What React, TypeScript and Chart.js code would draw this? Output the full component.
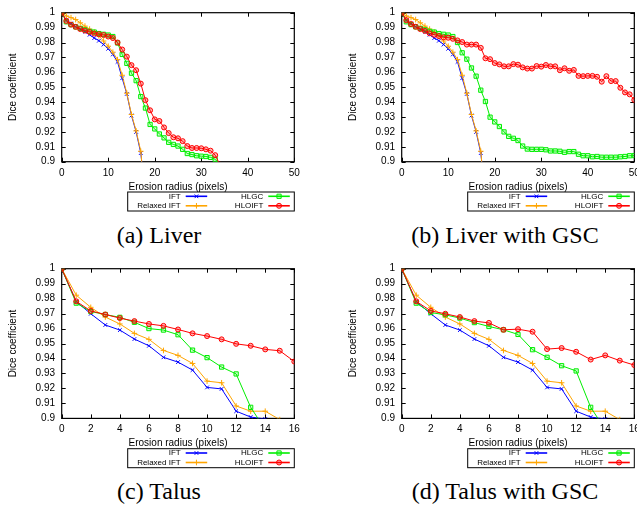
import React, { useEffect, useRef } from 'react';
import { Chart, registerables } from 'chart.js';
import { drawPoint } from 'chart.js/helpers';

Chart.register(...registerables);

// ---------- data (values indexed by erosion radius in pixels, starting at 0) ----------
const SERIES_LABELS = ['IFT', 'Relaxed IFT', 'HLGC', 'HLOIFT'];
const SERIES_COLORS = ['#0000ff', '#ffa500', '#00ee00', '#ff0000'];
const SERIES_FILLS = ['#0000ff', '#ffa500', 'rgba(0,238,0,0.18)', 'rgba(255,0,0,0.3)'];
const SERIES_POINTS = ['crossRot', 'cross', 'rect', 'circle'];
const SERIES_RADII = [2.6, 2.8, 3, 2.5];

const Y_MIN = 0.9;
const Y_MAX = 1.0;
const Y_STEP = 0.01;

const LIVER_X_MAX = 50;
const LIVER_X_STEP = 10;
const TALUS_X_MAX = 16;
const TALUS_X_STEP = 2;

const X_TITLE = 'Erosion radius (pixels)';
const Y_TITLE = 'Dice coefficient';

const IFT_LIVER = [1.0, 0.995, 0.9928, 0.9906, 0.9889, 0.9873, 0.9852, 0.983, 0.9812, 0.9786, 0.9758, 0.972, 0.967, 0.956, 0.9455, 0.931, 0.92, 0.9058, 0.877];
const RELAXED_LIVER = [1.0, 0.9978, 0.9967, 0.9954, 0.9932, 0.991, 0.989, 0.987, 0.9845, 0.981, 0.9775, 0.9735, 0.9685, 0.958, 0.946, 0.9317, 0.9207, 0.907, 0.872];
const HLGC_LIVER = [1.0, 0.9939, 0.992, 0.9905, 0.9895, 0.9885, 0.9875, 0.987, 0.986, 0.9855, 0.985, 0.984, 0.9797, 0.972, 0.966, 0.9594, 0.9544, 0.9437, 0.936, 0.925, 0.922, 0.9186, 0.916, 0.913, 0.9116, 0.9105, 0.9083, 0.9055, 0.9048, 0.904, 0.9037, 0.9035, 0.9029, 0.9016, 0.898];
const HLOIFT_LIVER = [1.0, 0.9945, 0.992, 0.9905, 0.989, 0.988, 0.987, 0.986, 0.9855, 0.985, 0.984, 0.983, 0.98, 0.9753, 0.9705, 0.9648, 0.9614, 0.9524, 0.9413, 0.9345, 0.9284, 0.9273, 0.923, 0.9192, 0.9164, 0.9157, 0.9138, 0.9105, 0.9092, 0.9092, 0.909, 0.9083, 0.9074, 0.9044, 0.898];

const HLGC_LIVER_GSC = [1.0, 0.9939, 0.992, 0.9905, 0.9895, 0.9885, 0.9875, 0.987, 0.986, 0.9855, 0.985, 0.984, 0.98, 0.9731, 0.9688, 0.9629, 0.9574, 0.948, 0.9404, 0.9299, 0.9267, 0.9236, 0.92, 0.917, 0.9157, 0.9142, 0.9105, 0.9085, 0.9083, 0.9083, 0.9083, 0.908, 0.9072, 0.9072, 0.907, 0.9063, 0.9068, 0.9068, 0.905, 0.904, 0.904, 0.9033, 0.9035, 0.903, 0.903, 0.903, 0.903, 0.9033, 0.9035, 0.904, 0.9041];
const HLOIFT_LIVER_GSC = [1.0, 0.995, 0.9924, 0.9906, 0.989, 0.9878, 0.9862, 0.9852, 0.9843, 0.9834, 0.9832, 0.9825, 0.9814, 0.9803, 0.9786, 0.9786, 0.9786, 0.9764, 0.9694, 0.9688, 0.9662, 0.9653, 0.964, 0.964, 0.9655, 0.9651, 0.9633, 0.9625, 0.9625, 0.9642, 0.9638, 0.9649, 0.964, 0.964, 0.9614, 0.9627, 0.961, 0.9616, 0.9576, 0.9574, 0.9576, 0.9576, 0.957, 0.9537, 0.9574, 0.9541, 0.9541, 0.9496, 0.9465, 0.9452, 0.9415];

const IFT_TALUS = [1.0, 0.978, 0.9699, 0.9624, 0.959, 0.953, 0.9485, 0.9408, 0.9376, 0.9323, 0.9207, 0.9197, 0.9048, 0.9009, 0.8996];
const RELAXED_TALUS = [1.0, 0.9823, 0.9742, 0.9677, 0.9631, 0.9568, 0.9528, 0.9454, 0.9421, 0.9367, 0.9249, 0.9238, 0.9083, 0.9048, 0.9048, 0.8992];
const HLGC_TALUS = [1.0, 0.977, 0.9714, 0.9694, 0.9675, 0.9642, 0.96, 0.959, 0.9559, 0.9456, 0.9406, 0.9343, 0.9297, 0.9074, 0.8926];
const HLOIFT_TALUS = [1.0, 0.9782, 0.9718, 0.9694, 0.967, 0.965, 0.9631, 0.9618, 0.9594, 0.9568, 0.955, 0.9528, 0.9498, 0.9485, 0.9461, 0.9452, 0.938];

const HLGC_TALUS_GSC = [1.0, 0.977, 0.9707, 0.9692, 0.967, 0.964, 0.9614, 0.9592, 0.9561, 0.9459, 0.9408, 0.9352, 0.9317, 0.9074, 0.8926];
const HLOIFT_TALUS_GSC = [1.0, 0.9782, 0.9718, 0.9699, 0.9677, 0.965, 0.9638, 0.9592, 0.9596, 0.9579, 0.9463, 0.947, 0.9445, 0.9393, 0.9421, 0.9386, 0.9356];

const CAPTIONS = ['(a) Liver', '(b) Liver with GSC', '(c) Talus', '(d) Talus with GSC'];

// ---------- layout ----------
const CANVAS_W = 318;
const CANVAS_H = 215;
const PLOT_H = 152.7;
const Y_AXIS_W = 61.7;
const X_AXIS_H = 31.3;
const RIGHT_PAD = 23.7;
const FONT = 'Liberation Sans, Arial, Helvetica, sans-serif';

const PANELS = [
  { left: 0, top: 0, padTop: 9, capShift: 0, xMax: LIVER_X_MAX, xStep: LIVER_X_STEP, series: [IFT_LIVER, RELAXED_LIVER, HLGC_LIVER, HLOIFT_LIVER], caption: CAPTIONS[0] },
  { left: 340, top: 0, padTop: 9, capShift: 6, xMax: LIVER_X_MAX, xStep: LIVER_X_STEP, series: [IFT_LIVER, RELAXED_LIVER, HLGC_LIVER_GSC, HLOIFT_LIVER_GSC], caption: CAPTIONS[1] },
  { left: 0, top: 256, padTop: 9.7, capShift: 0, xMax: TALUS_X_MAX, xStep: TALUS_X_STEP, series: [IFT_TALUS, RELAXED_TALUS, HLGC_TALUS, HLOIFT_TALUS], caption: CAPTIONS[2] },
  { left: 340, top: 256, padTop: 9.7, capShift: 6, xMax: TALUS_X_MAX, xStep: TALUS_X_STEP, series: [IFT_TALUS, RELAXED_TALUS, HLGC_TALUS_GSC, HLOIFT_TALUS_GSC], caption: CAPTIONS[3] },
];

const framePlugin = {
  id: 'gnuFrame',
  beforeDatasetsDraw(chart: any) {
    const { ctx, chartArea: ca, scales } = chart;
    ctx.save();
    ctx.strokeStyle = '#000';
    ctx.lineWidth = 1;
    const T = 4;
    ctx.beginPath();
    scales.x.ticks.forEach((t: any) => {
      const px = Math.round(scales.x.getPixelForValue(t.value)) + 0.5;
      ctx.moveTo(px, ca.bottom);
      ctx.lineTo(px, ca.bottom - T);
      ctx.moveTo(px, ca.top);
      ctx.lineTo(px, ca.top + T);
    });
    scales.y.ticks.forEach((t: any) => {
      const py = Math.round(scales.y.getPixelForValue(t.value)) + 0.5;
      ctx.moveTo(ca.left, py);
      ctx.lineTo(ca.left + T, py);
      ctx.moveTo(ca.right, py);
      ctx.lineTo(ca.right - T, py);
    });
    ctx.stroke();
    ctx.lineWidth = 1.2;
    ctx.strokeRect(ca.left, ca.top, ca.right - ca.left, ca.bottom - ca.top);
    ctx.restore();
  },
};

const legendPlugin = {
  id: 'gnuLegend',
  afterDraw(chart: any) {
    const { ctx, chartArea: ca } = chart;
    const boxL = ca.left + 66;
    const boxR = ca.right;
    const boxT = ca.bottom + 30.3;
    const boxB = ca.bottom + 49.3;
    ctx.save();
    ctx.strokeStyle = '#000';
    ctx.lineWidth = 1;
    ctx.strokeRect(boxL, boxT, boxR - boxL, boxB - boxT);
    const rows = [boxT + 4.3, boxT + 13.8];
    const textRight = [boxL + 53, boxR - 31];
    ctx.font = '8px ' + FONT;
    ctx.textAlign = 'right';
    ctx.textBaseline = 'middle';
    chart.data.datasets.forEach((ds: any, i: number) => {
      const col = Math.floor(i / 2);
      const row = i % 2;
      const y = rows[row];
      const tx = textRight[col];
      ctx.fillStyle = '#000';
      ctx.fillText(ds.label, tx, y);
      const x0 = tx + 5;
      const x1 = tx + 26.5;
      ctx.strokeStyle = ds.borderColor;
      ctx.lineWidth = 1.6;
      ctx.beginPath();
      ctx.moveTo(x0, y);
      ctx.lineTo(x1, y);
      ctx.stroke();
      ctx.fillStyle = ds.pointBackgroundColor;
      ctx.strokeStyle = ds.borderColor;
      ctx.lineWidth = 1;
      drawPoint(ctx, { pointStyle: ds.pointStyle, rotation: 0, radius: ds.pointRadius, borderWidth: 1 }, (x0 + x1) / 2, y);
    });
    ctx.restore();
  },
};

function Panel({ panel }: { panel: any }) {
  const ref = useRef<HTMLCanvasElement | null>(null);
  useEffect(() => {
    if (!ref.current) return;
    const plotBottom = panel.padTop + PLOT_H;
    const datasets = panel.series.map((vals: number[], i: number) => ({
      label: SERIES_LABELS[i],
      data: vals.map((v, r) => ({ x: r, y: v })),
      borderColor: SERIES_COLORS[i],
      backgroundColor: SERIES_FILLS[i],
      pointBackgroundColor: SERIES_FILLS[i],
      pointBorderColor: SERIES_COLORS[i],
      pointStyle: SERIES_POINTS[i],
      pointRadius: SERIES_RADII[i],
      pointBorderWidth: 1,
      borderWidth: 1,
      tension: 0,
      order: 3 - i,
    }));
    const chart = new Chart(ref.current, {
      type: 'line',
      data: { datasets },
      plugins: [framePlugin, legendPlugin],
      options: {
        animation: false,
        responsive: false,
        devicePixelRatio: 1,
        layout: { padding: { top: panel.padTop, right: RIGHT_PAD, left: 0, bottom: CANVAS_H - X_AXIS_H - plotBottom } },
        plugins: { legend: { display: false }, tooltip: { enabled: false } },
        scales: {
          x: {
            type: 'linear',
            min: 0,
            max: panel.xMax,
            grid: { display: false, drawTicks: false },
            border: { display: false },
            ticks: { stepSize: panel.xStep, padding: 5.3, color: '#000', font: { family: FONT, size: 10 }, maxRotation: 0, autoSkip: false },
            title: { display: true, text: X_TITLE, color: '#000', font: { family: FONT, size: 10 }, padding: { top: 0, bottom: 0 } },
            afterFit: (s: any) => { s.height = X_AXIS_H; },
          },
          y: {
            type: 'linear',
            min: Y_MIN,
            max: Y_MAX,
            grid: { display: false, drawTicks: false },
            border: { display: false },
            ticks: {
              stepSize: Y_STEP,
              autoSkip: false,
              padding: 6.7,
              color: '#000',
              font: { family: FONT, size: 10 },
              callback: (v: any) => String(Number(Number(v).toFixed(2))),
            },
            title: { display: true, text: Y_TITLE, color: '#000', font: { family: FONT, size: 10 }, padding: { top: 7.3, bottom: 0 } },
            afterFit: (s: any) => { s.width = Y_AXIS_W; },
          },
        },
      },
    } as any);
    return () => chart.destroy();
  }, [panel]);
  return (
    <>
      <canvas
        ref={ref}
        width={CANVAS_W}
        height={CANVAS_H}
        style={{ position: 'absolute', left: panel.left, top: panel.top, width: CANVAS_W, height: CANVAS_H }}
      />
      <div
        style={{
          position: 'absolute',
          left: panel.left + panel.capShift,
          top: panel.top + 222.6,
          width: CANVAS_W,
          textAlign: 'center',
          fontFamily: 'Liberation Serif, Times New Roman, serif',
          fontSize: 24,
          lineHeight: '24px',
          color: '#000',
          whiteSpace: 'nowrap',
        }}
      >
        {panel.caption}
      </div>
    </>
  );
}

export default function App() {
  return (
    <div style={{ position: 'fixed', left: 0, top: 0, width: 637, height: 510, overflow: 'hidden', background: '#fff' }}>
      {PANELS.map((p, i) => (
        <Panel key={i} panel={p} />
      ))}
    </div>
  );
}
